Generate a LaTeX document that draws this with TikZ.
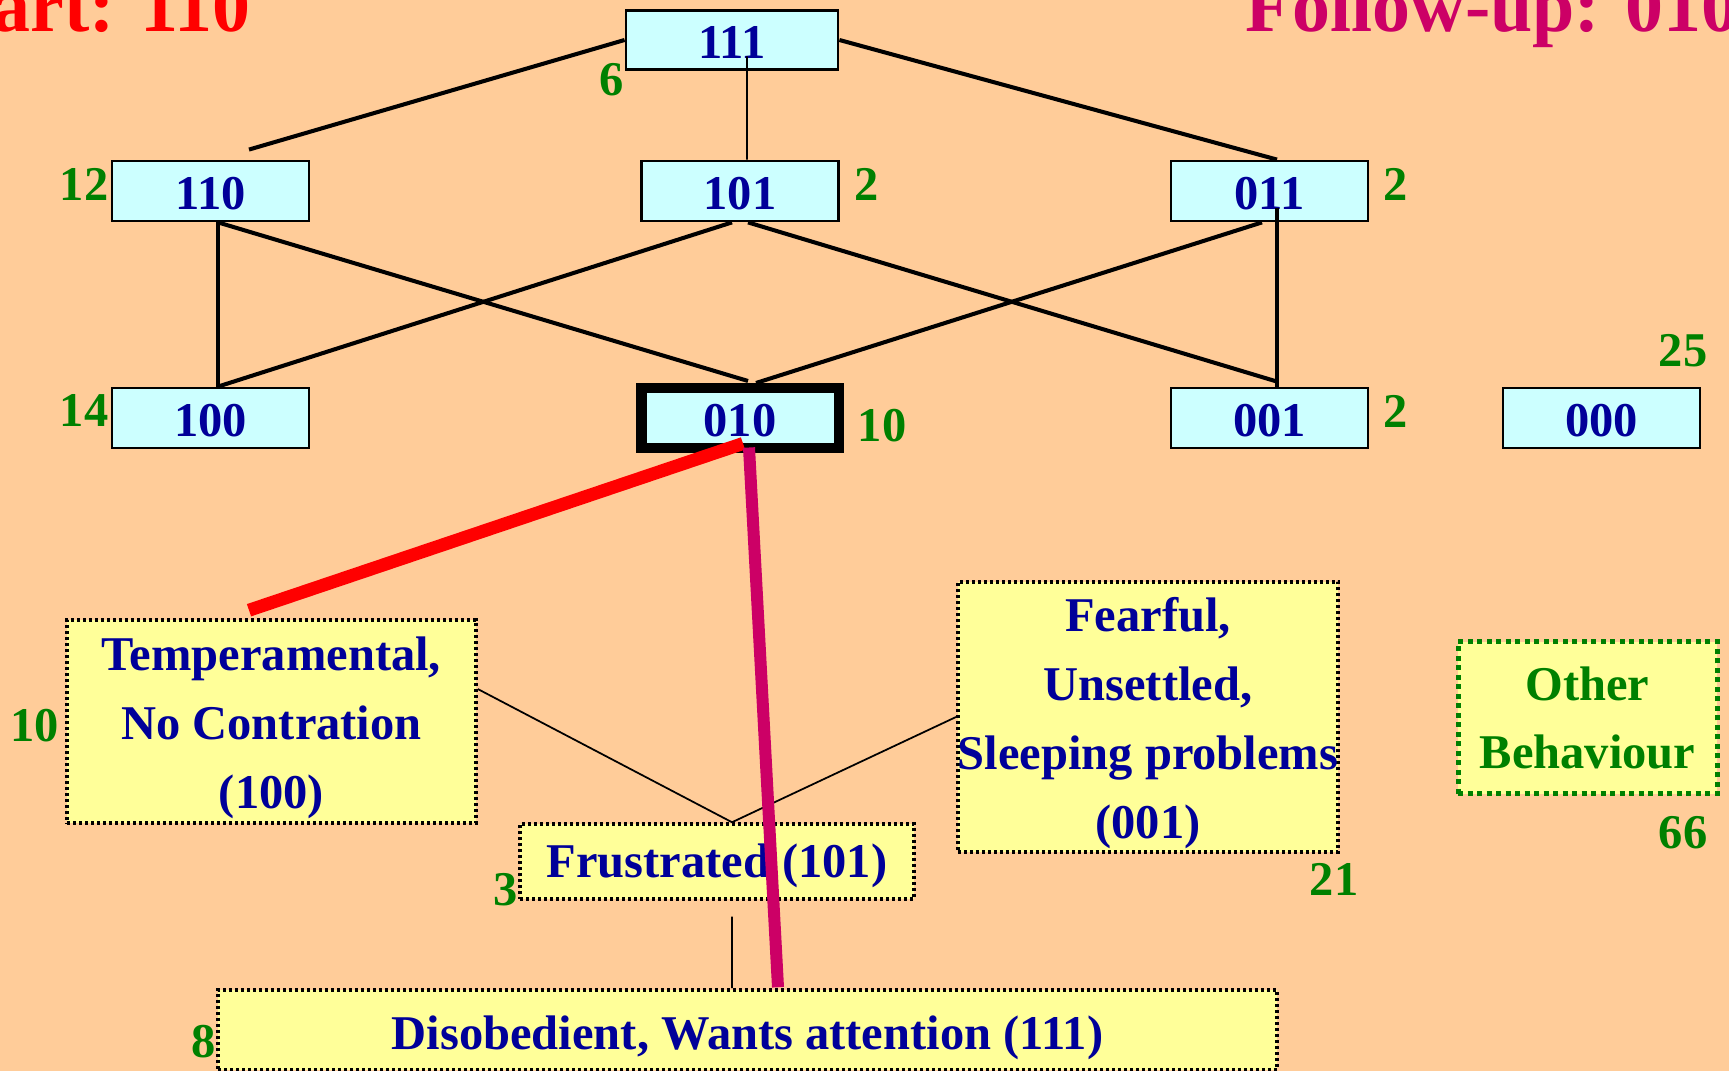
\documentclass[tikz,border=0pt]{standalone}
\usepackage{fontspec}
\setmainfont{Liberation Serif}
\usetikzlibrary{positioning, calc}

\definecolor{peach}{RGB}{255,204,153}
\definecolor{boxcyan}{RGB}{204,255,255}
\definecolor{boxyellow}{RGB}{255,255,153}
\definecolor{navy}{RGB}{0,0,153}
\definecolor{tallygreen}{RGB}{0,128,0}
\definecolor{startred}{RGB}{255,0,0}
\definecolor{followmag}{RGB}{204,0,102}

\newcommand{\firstline}{\rule{0pt}{13.3pt}} % pushes a multi-line text a bit down

\tikzset{
	every node/.style={font=\bfseries\fontsize{13.8}{19.6}\selectfont}, % bold serif for all the text
	codebox/.style={draw, line width=0.8pt, fill=boxcyan, text=navy, minimum width=1.97cm, minimum height=0.60cm, inner sep=0pt, text height=10.5pt, text depth=0pt}, % the codes of the lattice
	chosenbox/.style={codebox, line width=2.85pt}, % the follow-up code
	tally/.style={text=tallygreen, inner sep=0pt}, % how many children
	behaviour/.style={draw, fill=boxyellow, line width=0.035cm, dash pattern=on 0.03cm off 0.03cm, text=navy, align=center, inner sep=0pt},
	otherbox/.style={behaviour, draw=tallygreen, text=tallygreen, line width=0.05cm, dash pattern=on 0.05cm off 0.045cm},
	link/.style={line width=1.15pt}, % lattice edges
	thinlink/.style={line width=0.5pt},
	heading/.style={font=\bfseries\fontsize{21.6}{26}\selectfont, inner sep=0pt, anchor=base west},
}

\begin{document}
\begin{tikzpicture}[node distance=5.295cm]
	
	% page
	\fill[peach] (0,0) rectangle (17.29,10.71);
	\useasboundingbox (0,0) rectangle (17.29,10.71);
	
	% Titles
	\node[heading, text=startred] (start) at (-0.08,10.39) {art: 110};
	\node[heading, text=followmag] (follow) at (12.45,10.39) {Follow-up: 010};
	
	% Lattice
	\node[codebox, minimum width=2.12cm, minimum height=0.59cm] (n111) at (7.32,10.31) {111};
	\node[codebox] (n110) at (2.105,8.80) {110};
	\node[codebox, right of=n110] (n101) {101};
	\node[codebox, right of=n101] (n011) {011};
	\node[codebox, node distance=2.27cm, below of=n110] (n100) {100};
	\node[chosenbox, node distance=2.27cm, below of=n101] (n010) {010};
	\node[codebox, node distance=2.27cm, below of=n011] (n001) {001};
	\node[codebox] (n000) at (16.015,6.53) {000};
	
	\node[tally] (c111) at (6.12,9.91) {6};
	\node[tally] (c110) at (0.84,8.87) {12};
	\node[tally] (c101) at (8.67,8.87) {2};
	\node[tally] (c011) at (13.96,8.87) {2};
	\node[tally] (c100) at (0.84,6.60) {14};
	\node[tally] (c010) at (8.82,6.45) {10};
	\node[tally] (c001) at (13.96,6.60) {2};
	\node[tally] (c000) at (16.83,7.20) {25};
	
	\coordinate (q110) at ($(n110.north)+(0.385,0.10)$);
	\coordinate (q011) at ($(n011.north)+(0.075,0)$);
	\coordinate (s111) at ($(n111.south)+(0.15,0.145)$);
	\coordinate (q101) at ($(n101.north)+(0.07,0)$);
	\coordinate (s110) at ($(n110.south)+(0.075,0)$);
	\coordinate (q100) at ($(n100.north)+(0.075,0)$);
	\coordinate (s101l) at ($(n101.south)+(-0.08,0)$);
	\coordinate (s101r) at ($(n101.south)+(0.08,0)$);
	\coordinate (q010l) at ($(n010.north)+(0.08,0.02)$);
	\coordinate (q010r) at ($(n010.north)+(0.16,0)$);
	\coordinate (s011l) at ($(n011.south)+(-0.075,0)$);
	\coordinate (s011r) at ($(n011.south)+(0.075,0.14)$);
	\coordinate (q001) at ($(n001.north)+(0.075,0.05)$);
	
	\draw[link] (n111.west) -- (q110);
	\draw[link] (n111.east) -- (q011);
	\draw[thinlink] (s111) -- (q101);
	\draw[link] (s110) -- (q100);
	\draw[link] (s110) -- (q010l);
	\draw[link] (s101l) -- (q100);
	\draw[link] (s101r) -- (q001);
	\draw[link] (s011l) -- (q010r);
	\draw[link] (s011r) -- (n001.north-|s011r);
	
	% Behaviours
	\node[behaviour, minimum width=4.09cm, minimum height=2.03cm] (temper) at (2.715,3.495) {\firstline Temperamental,\\No Contration\\(100)};
	\node[behaviour, minimum width=3.94cm, minimum height=0.75cm, text height=8.9pt, text depth=0pt] (frust) at (7.17,2.095) {Frustrated (101)};
	\node[behaviour, minimum width=3.80cm, minimum height=2.70cm] (fear) at (11.48,3.54) {\firstline Fearful,\\Unsettled,\\Sleeping problems\\(001)};
	\node[otherbox, minimum width=2.59cm, minimum height=1.52cm] (other) at (15.875,3.53) {Other\\Behaviour};
	\node[behaviour, minimum width=10.59cm, minimum height=0.80cm, text height=10.9pt, text depth=0pt] (disob) at (7.475,0.41) {Disobedient, Wants attention (111)};
	
	\node[tally] (ctemper) at (0.35,3.45) {10};
	\node[tally] (cfrust) at (5.06,1.81) {3};
	\node[tally] (cdisob) at (2.04,0.29) {8};
	\node[tally] (cfear) at (13.34,1.92) {21};
	\node[tally] (cother) at (16.83,2.38) {66};
	
	\coordinate (etemper) at ($(temper.east)+(0,0.325)$);
	\coordinate (nfrust) at ($(frust.north)+(0.15,0)$);
	\coordinate (sfrust) at ($(frust.south)+(0.15,-0.16)$);
	\coordinate (ndisob) at ($(disob.north)+(-0.155,0)$);
	
	\draw[thinlink] (etemper) -- (nfrust) -- (fear.west);
	\draw[thinlink] (sfrust) -- (ndisob);
	
	% Start and follow-up
	\coordinate (r010) at ($(n010.south)+(0.03,0.095)$);
	\coordinate (m010) at ($(n010.south)+(0.09,0.055)$);
	\coordinate (qtemper) at ($(temper.north)+(-0.225,0.08)$);
	\coordinate (qdisob) at ($(disob.north)+(0.305,0.01)$);
	
	\draw[startred, line width=0.13cm] (r010) -- (qtemper);
	\draw[followmag, line width=0.12cm] (m010) -- (qdisob);
	
\end{tikzpicture}
\end{document}
